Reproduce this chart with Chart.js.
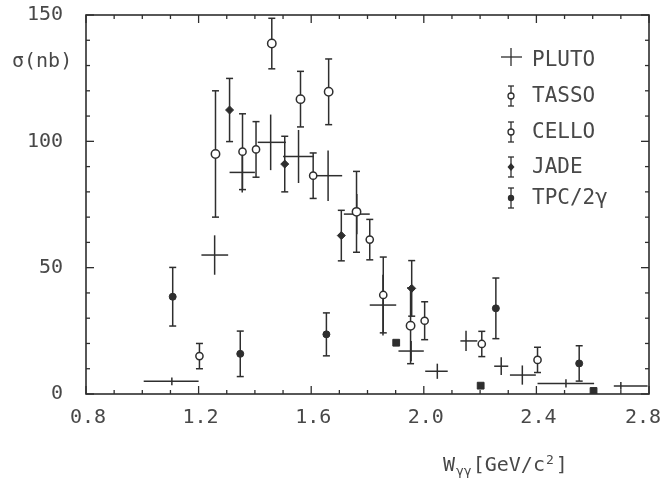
<!DOCTYPE html>
<html>
<head>
<meta charset="utf-8">
<script src="https://cdn.jsdelivr.net/npm/chart.js@4/dist/chart.umd.min.js"></script>
<style>
  html, body { margin: 0; padding: 0; background: #ffffff; }
  canvas { display: block; }
</style>
</head>
<body>
<canvas id="chart" width="664" height="483"></canvas>
<script>
// ---- data: gamma-gamma cross section sigma(nb) versus W_gg [GeV/c^2] ----
const xTickLabels = ['0.8', '1.2', '1.6', '2.0', '2.4', '2.8'];
const yTickLabels = ['0', '50', '100', '150'];

// PLUTO: bin centre, bin edges, value, error
const plutoW     = [1.105, 1.257, 1.355, 1.456, 1.555, 1.66, 1.762, 1.855, 1.955, 2.048, 2.15, 2.275, 2.35, 2.505, 2.70];
const plutoWLow  = [1.005, 1.21, 1.31, 1.41, 1.50, 1.61, 1.716, 1.808, 1.91, 2.005, 2.13, 2.25, 2.306, 2.404, 2.675];
const plutoWHigh = [1.20, 1.305, 1.40, 1.51, 1.61, 1.71, 1.808, 1.902, 2.0, 2.085, 2.19, 2.30, 2.398, 2.605, 2.795];
const plutoSigma = [5, 55, 87.7, 99.6, 94, 86.4, 71.2, 35.2, 17, 9, 21, 11, 7.5, 4.2, 3.2];
const plutoErr   = [1.5, 7.8, 8, 11, 10.5, 10, 8, 12, 4, 3, 4, 3.5, 3.8, 1.6, 1.5];

// TASSO
const tassoW     = [1.26, 1.46, 1.562, 1.662, 1.761, 1.953];
const tassoSigma = [95, 138.7, 116.7, 119.6, 72.1, 27];
const tassoErr   = [25, 10, 11, 13, 16, 15];

// CELLO
const celloW     = [1.203, 1.356, 1.404, 1.607, 1.808, 1.856, 2.003, 2.206, 2.404];
const celloSigma = [15, 95.9, 96.8, 86.4, 61.1, 39.2, 29, 19.8, 13.5];
const celloErr   = [5, 15, 11, 9, 8, 15, 7.5, 5, 5];

// JADE
const jadeW     = [1.31, 1.506, 1.707, 1.957];
const jadeSigma = [112.4, 91, 62.7, 41.8];
const jadeErr   = [12.5, 11, 10, 11];

// TPC/2gamma
const tpcW     = [1.108, 1.348, 1.654, 2.256, 2.552];
const tpcSigma = [38.5, 15.9, 23.6, 33.9, 12.1];
const tpcErr   = [11.6, 9, 8.5, 12, 7];

// small filled boxes without error bars
const boxW     = [1.902, 2.202, 2.603];
const boxSigma = [20.3, 3.3, 1.2];

// ---- styling ----
const INK = '#2e2e2e';
const TEXT = '#484848';
const MONO = '"DejaVu Sans Mono", monospace';

const toPoints = (xs, ys) => xs.map((x, i) => ({ x: x, y: ys[i] }));

const errorSets = [
  { w: tassoW, s: tassoSigma, e: tassoErr },
  { w: celloW, s: celloSigma, e: celloErr },
  { w: jadeW,  s: jadeSigma,  e: jadeErr },
  { w: tpcW,   s: tpcSigma,   e: tpcErr }
];

function line(ctx, x1, y1, x2, y2) {
  ctx.beginPath();
  ctx.moveTo(x1, y1);
  ctx.lineTo(x2, y2);
  ctx.stroke();
}

function capBar(ctx, x, yTop, yBot, cap) {
  line(ctx, x, yTop, x, yBot);
  line(ctx, x - cap, yTop, x + cap, yTop);
  line(ctx, x - cap, yBot, x + cap, yBot);
}

// frame, inward ticks, tick labels, axis titles, legend and error bars
const framePlugin = {
  id: 'frame',
  beforeDatasetsDraw(chart) {
    const ctx = chart.ctx;
    const xs = chart.scales.x, ys = chart.scales.y;
    const a = chart.chartArea;
    ctx.save();
    ctx.strokeStyle = INK;
    ctx.lineWidth = 1.6;
    ctx.lineCap = 'butt';
    ctx.strokeRect(a.left, a.top, a.right - a.left, a.bottom - a.top);

    // x ticks every 0.1, long ones at labelled values
    ctx.lineWidth = 1.3;
    for (let i = 0; i <= 20; i++) {
      const v = 0.8 + i * 0.1;
      const px = xs.getPixelForValue(v);
      const len = (i % 4 === 0) ? 8 : 4;
      line(ctx, px, a.bottom, px, a.bottom - len);
      line(ctx, px, a.top, px, a.top + len);
    }
    // y ticks every 10, long ones every 50
    for (let v = 0; v <= 150; v += 10) {
      const py = ys.getPixelForValue(v);
      const len = (v % 50 === 0) ? 8 : 4;
      line(ctx, a.left, py, a.left + len, py);
      line(ctx, a.right, py, a.right - len, py);
    }

    // tick labels
    ctx.fillStyle = TEXT;
    ctx.font = '20px ' + MONO;
    ctx.textAlign = 'center';
    ctx.textBaseline = 'middle';
    const W = chart.width;
    xTickLabels.forEach(t => {
      const half = ctx.measureText(t).width / 2;
      const px = Math.min(xs.getPixelForValue(parseFloat(t)) + 2, W - half - 3);
      ctx.fillText(t, px, a.bottom + 24);
    });
    ctx.textAlign = 'right';
    yTickLabels.forEach(t => {
      ctx.fillText(t, a.left - 23, ys.getPixelForValue(parseFloat(t)));
    });

    // y title
    ctx.textAlign = 'left';
    ctx.font = '20px ' + MONO;
    ctx.fillText('\u03C3(nb)', 12, 62);

    // x title: W with subscript gamma-gamma, then units
    ctx.textBaseline = 'alphabetic';
    let tx = 443, ty = 471;
    ctx.font = '20px ' + MONO;
    ctx.fillText('W', tx, ty);
    tx += ctx.measureText('W').width + 1;
    ctx.font = '13px ' + MONO;
    ctx.fillText('\u03B3\u03B3', tx, ty + 4);
    tx += ctx.measureText('\u03B3\u03B3').width + 1;
    ctx.font = '20px ' + MONO;
    ctx.fillText('[GeV/c', tx, ty);
    tx += ctx.measureText('[GeV/c').width + 1;
    ctx.font = '13px ' + MONO;
    ctx.fillText('2', tx, ty - 7);
    tx += ctx.measureText('2').width + 2;
    ctx.font = '20px ' + MONO;
    ctx.fillText(']', tx, ty);

    // legend
    const lx = 511, tx0 = 532;
    const rows = [
      { label: 'PLUTO',  y: 60,  sym: 'cross' },
      { label: 'TASSO',  y: 96,  sym: 'open' },
      { label: 'CELLO',  y: 132, sym: 'open' },
      { label: 'JADE',   y: 167, sym: 'diamond' },
      { label: 'TPC/2\u03B3', y: 198, sym: 'dot' }
    ];
    ctx.font = '21px ' + MONO;
    ctx.textBaseline = 'middle';
    ctx.textAlign = 'left';
    ctx.lineWidth = 1.3;
    rows.forEach(r => {
      ctx.fillStyle = TEXT;
      ctx.fillText(r.label, tx0, r.y + 1);
      ctx.fillStyle = INK;
      if (r.sym === 'cross') {
        line(ctx, lx - 10, r.y - 3, lx + 11, r.y - 3);
        line(ctx, lx, r.y - 12, lx, r.y + 6);
      } else {
        capBar(ctx, lx, r.y - 10, r.y + 10, 3);
        ctx.beginPath();
        if (r.sym === 'open') {
          ctx.arc(lx, r.y, 3, 0, Math.PI * 2);
          ctx.fillStyle = '#fff';
          ctx.fill();
          ctx.stroke();
        } else if (r.sym === 'diamond') {
          ctx.moveTo(lx, r.y - 4); ctx.lineTo(lx + 3.5, r.y);
          ctx.lineTo(lx, r.y + 4); ctx.lineTo(lx - 3.5, r.y);
          ctx.closePath();
          ctx.fill();
        } else {
          ctx.arc(lx, r.y, 3.2, 0, Math.PI * 2);
          ctx.fill();
        }
      }
    });

    // error bars
    ctx.save();
    ctx.beginPath();
    ctx.rect(a.left, a.top - 2, a.right - a.left, a.bottom - a.top + 2);
    ctx.clip();
    ctx.strokeStyle = INK;
    ctx.lineWidth = 1.5;
    errorSets.forEach(set => {
      set.w.forEach((w, i) => {
        const px = xs.getPixelForValue(w);
        capBar(ctx, px, ys.getPixelForValue(set.s[i] + set.e[i]),
               ys.getPixelForValue(set.s[i] - set.e[i]), 3.5);
      });
    });
    // PLUTO crosses: bin width horizontally, error vertically
    plutoW.forEach((w, i) => {
      const px = xs.getPixelForValue(w);
      const py = ys.getPixelForValue(plutoSigma[i]);
      line(ctx, xs.getPixelForValue(plutoWLow[i]), py, xs.getPixelForValue(plutoWHigh[i]), py);
      line(ctx, px, ys.getPixelForValue(plutoSigma[i] + plutoErr[i]),
           px, ys.getPixelForValue(plutoSigma[i] - plutoErr[i]));
    });
    ctx.restore();
    ctx.restore();
  }
};

new Chart(document.getElementById('chart'), {
  type: 'scatter',
  data: {
    datasets: [
      { label: 'PLUTO', data: toPoints(plutoW, plutoSigma), pointRadius: 0, showLine: false },
      { label: 'TASSO', data: toPoints(tassoW, tassoSigma), pointStyle: 'circle', pointRadius: 4.2,
        backgroundColor: '#ffffff', borderColor: INK, borderWidth: 1.5 },
      { label: 'CELLO', data: toPoints(celloW, celloSigma), pointStyle: 'circle', pointRadius: 3.6,
        backgroundColor: '#ffffff', borderColor: INK, borderWidth: 1.5 },
      { label: 'JADE', data: toPoints(jadeW, jadeSigma), pointStyle: 'rectRot', pointRadius: 4,
        backgroundColor: INK, borderColor: INK, borderWidth: 1 },
      { label: 'TPC/2\u03B3', data: toPoints(tpcW, tpcSigma), pointStyle: 'circle', pointRadius: 3.5,
        backgroundColor: INK, borderColor: INK, borderWidth: 1 },
      { label: 'boxes', data: toPoints(boxW, boxSigma), pointStyle: 'rect', pointRadius: 4.8,
        backgroundColor: INK, borderColor: INK, borderWidth: 1 }
    ]
  },
  options: {
    responsive: false,
    animation: false,
    events: [],
    layout: { padding: { left: 86, top: 15, right: 15, bottom: 89 } },
    plugins: { legend: { display: false }, tooltip: { enabled: false } },
    scales: {
      x: { type: 'linear', min: 0.8, max: 2.8, display: false },
      y: { type: 'linear', min: 0, max: 150, display: false }
    }
  },
  plugins: [framePlugin]
});
</script>
</body>
</html>
